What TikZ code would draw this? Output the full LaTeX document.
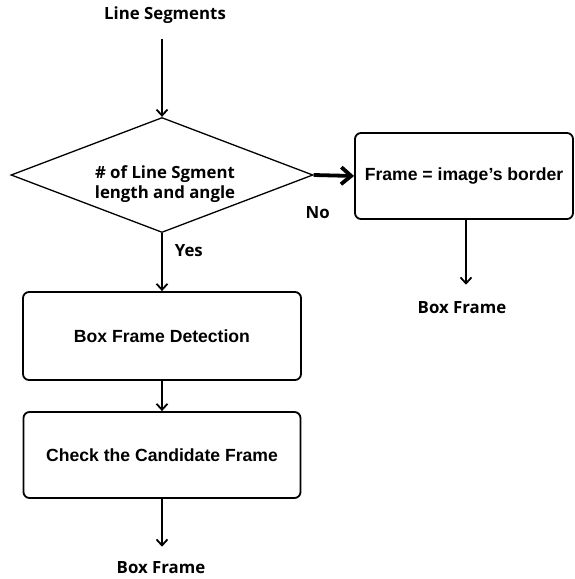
\documentclass[tikz,border=0pt]{standalone}
\usepackage{fontspec}
\setmainfont{Liberation Sans}
\newfontfamily\labelfont{Open Sans}
\usetikzlibrary{arrows.meta,positioning,shapes.geometric}

\tikzset{
    flowbox/.style={draw, rounded corners=6pt, line width=1.8pt,
        font=\fontsize{17.6}{20}\selectfont\bfseries, inner sep=0pt},
    decision/.style={diamond, draw, line width=1.3pt, aspect=2.6,
        minimum width=302pt, minimum height=115pt, inner sep=0pt},
    flowtext/.style={font=\labelfont\bfseries\fontsize{16.8}{19.5}\selectfont, inner sep=0pt},
    flowarrow/.style={-{Straight Barb[length=6pt,width=11pt]}, line width=1.8pt},
    thickarrow/.style={-{Straight Barb[length=10pt,width=17pt]}, line width=3.8pt}
}

\begin{document}
\begin{tikzpicture}[x=1pt, y=-1pt]
        \useasboundingbox (0,0) rectangle (574,579);

        \node[flowtext] (segs) at (165,15) {Line Segments};
        \node[decision] (cond) at (162,175) {};
        \node[flowtext, align=center] (condtext) at (165,184)
            {\# of Line Sgment\\length and angle};
        \node[flowbox, minimum width=218pt, minimum height=86pt] (border) at (464,176)
            {Frame = image's border};
        \node[flowtext] (frameR) at (462,308) {Box Frame};
        \node[flowbox, minimum width=278pt, minimum height=88pt] (detect) at (162,336)
            {Box Frame Detection};
        \node[flowbox, minimum width=277pt, minimum height=86pt] (check) at (162,455)
            {Check the Candidate Frame};
        \node[flowtext] (frameL) at (161,568) {Box Frame};
        \coordinate (borderout) at ([xshift=2pt]border.south);

        % connectors
        \draw[flowarrow, shorten <=15pt] (segs.south -| cond.north) -- (cond.north);
        \draw[thickarrow] (cond.east) -- (border.west)
            node[flowtext, pos=0.1, below=30pt] (no) {No};
        \draw[flowarrow] (cond.south) -- (detect.north)
            node[flowtext, pos=0.3, right=12pt] (yes) {Yes};
        \draw[flowarrow] (detect) -- (check);
        \draw[flowarrow, shorten >=15pt] (check.south) -- (check.south |- frameL.north);
        \draw[flowarrow, shorten >=17pt] (borderout) -- (borderout |- frameR.north);
    \end{tikzpicture}
\end{document}
